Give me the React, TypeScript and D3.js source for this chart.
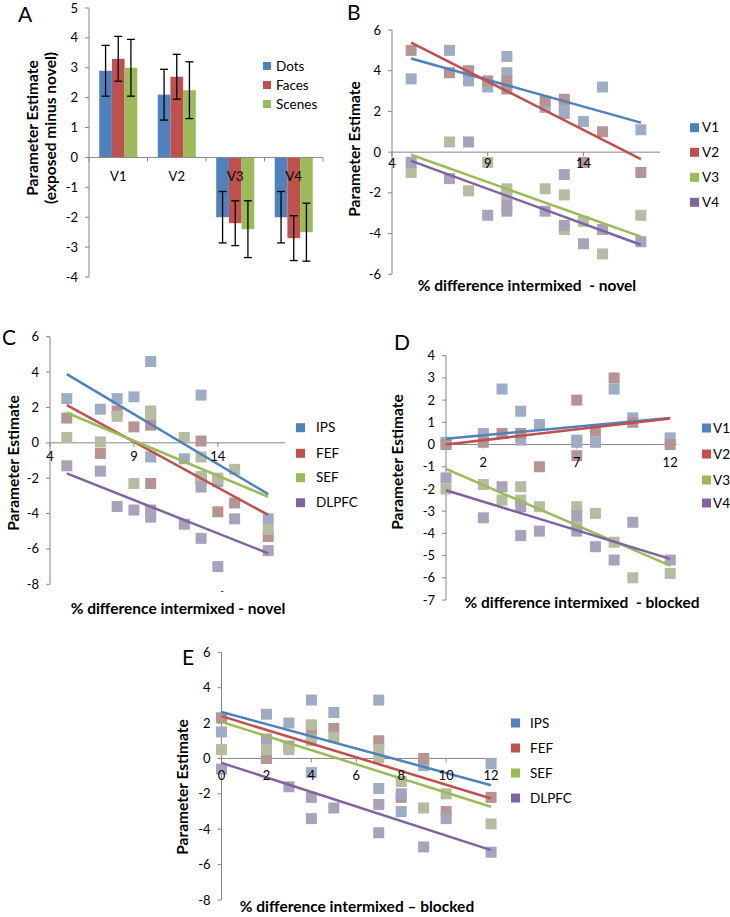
import React from "react";
import * as d3 from "d3";

const FONT = "Lato, 'Open Sans', 'DejaVu Sans', sans-serif";
const LINE_COLORS = ["#4f81bd", "#c0504d", "#9bbb59", "#8064a2"];
const POINT_COLORS = ["#9eadc3", "#b49594", "#b5bca2", "#a9a2bb"];
const AXIS = "#868686";
const TICK_FS = 13;
const LEG_FS = 13.5;
const TITLE_FS = 15.5;

// ---- Panel A data ----
const barCategories = ["V1", "V2", "V3", "V4"];
const barSeries = ["Dots", "Faces", "Scenes"];
const dotsValues = [2.9, 2.1, -2.0, -2.0];
const dotsErrors = [0.85, 0.85, 0.86, 0.86];
const facesValues = [3.3, 2.7, -2.2, -2.7];
const facesErrors = [0.75, 0.75, 0.75, 0.75];
const scenesValues = [3.0, 2.25, -2.4, -2.5];
const scenesErrors = [0.95, 0.95, 0.95, 0.97];
const barYTicks = [5, 4, 3, 2, 1, 0, -1, -2, -3, -4];

// ---- Panel B data ----
const visualNames = ["V1", "V2", "V3", "V4"];
const bV1 = [[5, 3.6], [7, 5.0], [8, 3.5], [9, 3.2], [10, 4.7], [10, 3.9], [12, 2.2], [13, 1.9], [13, 2.3], [14, 1.5], [15, 3.2], [17, 1.1]];
const bV2 = [[5, 5.0], [7, 3.9], [8, 4.0], [9, 3.5], [10, 3.5], [10, 3.1], [12, 2.5], [13, 2.6], [14, -0.5], [15, 1.0], [17, -1.0]];
const bV3 = [[5, -1.0], [7, 0.5], [8, -1.9], [9, -0.5], [10, -1.8], [10, -2.1], [12, -1.8], [13, -2.1], [13, -3.8], [14, -3.4], [15, -5.0], [17, -3.1]];
const bV4 = [[5, -0.5], [7, -1.3], [8, 0.5], [9, -3.1], [10, -2.6], [10, -2.9], [12, -2.9], [13, -1.1], [13, -3.6], [14, -4.5], [15, -3.8], [17, -4.4]];
const bTrendX = [5, 17];
const bTrends = [[4.6, 1.45], [5.38, -0.34], [-0.13, -4.15], [-0.43, -4.55]];
const bXTicks = [4, 9, 14];
const bYTicks = [6, 4, 2, 0, -2, -4, -6];

// ---- Panel C data ----
const frontalNames = ["IPS", "FEF", "SEF", "DLPFC"];
const cIPS = [[5, 2.5], [7, 1.9], [8, 2.5], [9, 2.6], [10, 4.6], [10, -0.8], [12, -0.9], [13, 2.7], [13, -2.0], [14, -2.2], [17, -4.3]];
const cFEF = [[5, 1.4], [7, -0.6], [8, 1.8], [9, 0.9], [10, 1.0], [10, -2.3], [13, 0.1], [13, -2.1], [14, -3.9], [15, -3.4], [17, -5.3]];
const cSEF = [[5, 0.3], [7, 0.05], [8, 1.5], [9, -2.3], [10, 1.8], [10, 1.6], [12, 0.3], [13, -0.8], [13, -1.9], [14, -2.0], [15, -1.5], [17, -4.9]];
const cDLPFC = [[5, -1.3], [7, -1.6], [8, -3.6], [9, -3.8], [10, -3.8], [10, -4.2], [12, -4.6], [13, -2.5], [13, -5.4], [14, -7.0], [15, -4.3], [17, -6.1]];
const cTrendX = [5, 17];
const cTrends = [[3.88, -2.9], [2.13, -4.08], [1.7, -3.05], [-1.73, -6.25]];
const cXTicks = [4, 9, 14];
const cYTicks = [6, 4, 2, 0, -2, -4, -6, -8];

// ---- Panel D data ----
const dV1 = [[0, 0.1], [2, 0.5], [3, 2.5], [4, 1.5], [4, 0.2], [5, 0.9], [7, 0.2], [7, 0.1], [8, 0.1], [9, 2.5], [10, 1.2], [12, 0.3]];
const dV2 = [[0, 0.0], [2, 0.1], [3, 0.5], [4, 0.5], [5, -1.0], [7, 2.0], [7, -0.5], [8, 0.6], [9, 3.0], [10, 1.0], [12, 0.0]];
const dV3 = [[0, -2.0], [2, -1.8], [3, -2.5], [4, -1.9], [4, -2.5], [5, -2.8], [7, -2.8], [7, -3.6], [8, -3.1], [9, -4.4], [10, -6.0], [12, -5.8]];
const dV4 = [[0, -1.5], [2, -3.3], [3, -1.9], [4, -2.8], [4, -4.1], [5, -3.9], [7, -3.2], [7, -3.9], [8, -4.6], [9, -5.2], [10, -3.5], [12, -5.2]];
const dTrendX = [0, 12];
const dTrends = [[0.26, 1.2], [0.0, 1.17], [-1.1, -5.45], [-2.06, -5.15]];
const dXTicks = [2, 7, 12];
const dYTicks = [4, 3, 2, 1, 0, -1, -2, -3, -4, -5, -6, -7];

// ---- Panel E data ----
const eIPS = [[0, 1.5], [2, 2.5], [3, 2.0], [4, 3.3], [4, -0.8], [4, 1.1], [5, 2.6], [7, 3.3], [7, -1.7], [8, -3.0], [9, -0.4], [12, -0.3]];
const eFEF = [[0, 2.3], [2, 0.0], [3, 0.7], [4, 1.7], [5, 1.7], [7, 1.0], [8, -2.2], [9, 0.0], [10, -3.0], [12, -2.2]];
const eSEF = [[0, 0.5], [2, 0.5], [3, 0.5], [4, 1.9], [4, 1.0], [5, 1.2], [7, 0.5], [7, 0.05], [8, -1.3], [9, -2.8], [10, -2.0], [12, -3.7]];
const eDLPFC = [[0, -0.6], [2, 1.1], [3, -1.6], [4, -2.2], [4, -3.4], [5, -2.8], [7, -2.6], [7, -4.2], [8, -2.0], [9, -5.0], [10, -3.4], [12, -5.3]];
const eTrendX = [0, 12];
const eTrends = [[2.63, -1.51], [2.39, -2.26], [2.07, -2.73], [-0.25, -5.18]];
const eXTicks = [0, 2, 4, 6, 8, 10, 12];
const eYTicks = [6, 4, 2, 0, -2, -4, -6, -8];

function BarPanel() {
  const y = d3.scaleLinear().domain([-4, 5]).range([277, 8]);
  const x = d3.scaleBand<string>().domain(barCategories).range([89, 323]).paddingInner(0.35).paddingOuter(0.175);
  const inner = d3.scaleBand<string>().domain(barSeries).range([0, x.bandwidth()]);
  const values = [dotsValues, facesValues, scenesValues];
  const errors = [dotsErrors, facesErrors, scenesErrors];
  const step = x.step();
  const y0 = y(0);
  return (
    <g>
      <text x={18} y={22} fontSize={21} fontFamily={FONT}>A</text>
      <line x1={89} x2={89} y1={y(5)} y2={y(-4)} stroke={AXIS} />
      {barYTicks.map((t) => (
        <g key={t}>
          <line x1={85} x2={89} y1={y(t)} y2={y(t)} stroke={AXIS} />
          <text x={78} y={y(t)} dy="0.35em" textAnchor="end" fontSize={TICK_FS} fontFamily={FONT}>{t}</text>
        </g>
      ))}
      {barCategories.map((c, ci) =>
        barSeries.map((s, si) => {
          const v = values[si][ci];
          const bx = (x(c) as number) + (inner(s) as number);
          const bw = inner.bandwidth();
          return (
            <rect key={c + s} x={bx} width={bw} y={Math.min(y(v), y0)} height={Math.abs(y(v) - y0)} fill={LINE_COLORS[si]} />
          );
        })
      )}
      <line x1={89} x2={323} y1={y0} y2={y0} stroke={AXIS} />
      {d3.range(5).map((i) => (
        <line key={i} x1={89 + i * step} x2={89 + i * step} y1={y0} y2={y0 + 4} stroke={AXIS} />
      ))}
      {barCategories.map((c) => (
        <text key={c} x={(x(c) as number) + x.bandwidth() / 2} y={y0 + 19} dy="0.35em" textAnchor="middle" fontSize={TICK_FS} fontFamily={FONT}>{c}</text>
      ))}
      {barCategories.map((c, ci) =>
        barSeries.map((s, si) => {
          const v = values[si][ci];
          const e = errors[si][ci];
          const cx = (x(c) as number) + (inner(s) as number) + inner.bandwidth() / 2;
          return (
            <g key={"e" + c + s} stroke="#000" strokeWidth={1.3}>
              <line x1={cx} x2={cx} y1={y(v + e)} y2={y(v - e)} />
              <line x1={cx - 4} x2={cx + 4} y1={y(v + e)} y2={y(v + e)} />
              <line x1={cx - 4} x2={cx + 4} y1={y(v - e)} y2={y(v - e)} />
            </g>
          );
        })
      )}
      {barSeries.map((s, i) => (
        <g key={s}>
          <rect x={263} y={66 + i * 19 - 4} width={8} height={8} fill={LINE_COLORS[i]} />
          <text x={276} y={66 + i * 19} dy="0.35em" fontSize={LEG_FS} fontFamily={FONT}>{s}</text>
        </g>
      ))}
      <g transform="translate(33,128) rotate(-90)">
        <text textAnchor="middle" dy="0.35em" fontSize={TITLE_FS} fontWeight="bold" fontFamily={FONT}>Parameter Estimate</text>
      </g>
      <g transform="translate(51,128) rotate(-90)">
        <text textAnchor="middle" dy="0.35em" fontSize={TITLE_FS} fontWeight="bold" fontFamily={FONT}>(exposed minus novel)</text>
      </g>
    </g>
  );
}

type ScatterProps = {
  letter: string;
  letterPos: [number, number];
  xDomain: [number, number];
  xRange: [number, number];
  yDomain: [number, number];
  yRange: [number, number];
  xTicks: number[];
  yTicks: number[];
  xLabelOffset: number;
  series: number[][][];
  trendX: number[];
  trends: number[][];
  names: string[];
  legendSquareX: number;
  legendTextX: number;
  legendY: number[];
  yTitlePos: [number, number];
  xTitle: string;
  xTitlePos: [number, number];
};

function ScatterPanel(p: ScatterProps) {
  const x = d3.scaleLinear().domain(p.xDomain).range(p.xRange);
  const y = d3.scaleLinear().domain(p.yDomain).range(p.yRange);
  const ax = p.xRange[0];
  const y0 = y(0);
  const sz = 11;
  const line = d3.line<number[]>().x((d) => x(d[0])).y((d) => y(d[1]));
  return (
    <g>
      <text x={p.letterPos[0]} y={p.letterPos[1]} fontSize={21} fontFamily={FONT}>{p.letter}</text>
      <line x1={ax} x2={ax} y1={p.yRange[0]} y2={p.yRange[1]} stroke={AXIS} />
      {p.yTicks.map((t) => (
        <g key={t}>
          <line x1={ax - 4} x2={ax} y1={y(t)} y2={y(t)} stroke={AXIS} />
          <text x={ax - 11} y={y(t)} dy="0.35em" textAnchor="end" fontSize={TICK_FS} fontFamily={FONT}>{t}</text>
        </g>
      ))}
      <line x1={p.xRange[0]} x2={p.xRange[1]} y1={y0} y2={y0} stroke={AXIS} />
      {p.xTicks.map((t) => (
        <line key={t} x1={x(t)} x2={x(t)} y1={y0} y2={y0 + 4} stroke={AXIS} />
      ))}
      {p.series.map((s, si) => (
        <g key={si}>
          {s.map((d, i) => (
            <rect key={i} x={x(d[0]) - sz / 2} y={y(d[1]) - sz / 2} width={sz} height={sz} fill={POINT_COLORS[si]} />
          ))}
        </g>
      ))}
      {p.trends.map((t, si) => (
        <path key={si} d={line([[p.trendX[0], t[0]], [p.trendX[1], t[1]]]) as string} stroke={LINE_COLORS[si]} strokeWidth={2.5} fill="none" />
      ))}
      {p.xTicks.map((t) => (
        <text key={t} x={x(t)} y={y0 + p.xLabelOffset} textAnchor="middle" fontSize={TICK_FS} fontFamily={FONT}>{t}</text>
      ))}
      {p.names.map((n, i) => (
        <g key={n}>
          <rect x={p.legendSquareX} y={p.legendY[i] - 4.5} width={9} height={9} fill={LINE_COLORS[i]} />
          <text x={p.legendTextX} y={p.legendY[i]} dy="0.35em" fontSize={LEG_FS} fontFamily={FONT}>{n}</text>
        </g>
      ))}
      <g transform={`translate(${p.yTitlePos[0]},${p.yTitlePos[1]}) rotate(-90)`}>
        <text textAnchor="middle" dy="0.35em" fontSize={TITLE_FS} fontWeight="bold" fontFamily={FONT}>Parameter Estimate</text>
      </g>
      <text x={p.xTitlePos[0]} y={p.xTitlePos[1]} textAnchor="middle" fontSize={TITLE_FS} fontWeight="bold" fontFamily={FONT} style={{ whiteSpace: "pre" }}>{p.xTitle}</text>
    </g>
  );
}

export default function App() {
  return (
    <svg width={730} height={917} style={{ position: "absolute", left: 0, top: 0, background: "#fff" }}>
      <rect width={730} height={917} fill="#fff" />
      <BarPanel />
      <ScatterPanel
        letter="B" letterPos={[347, 20]}
        xDomain={[4, 18]} xRange={[392, 660]} yDomain={[-6, 6]} yRange={[274.3, 30]}
        xTicks={bXTicks} yTicks={bYTicks} xLabelOffset={16}
        series={[bV1, bV2, bV3, bV4]} trendX={bTrendX} trends={bTrends} names={visualNames}
        legendSquareX={690} legendTextX={702} legendY={[127.7, 152.3, 177.3, 202.3]}
        yTitlePos={[355, 149]} xTitle="% difference intermixed  - novel" xTitlePos={[527, 291]}
      />
      <ScatterPanel
        letter="C" letterPos={[2, 345]}
        xDomain={[4, 18]} xRange={[50, 285]} yDomain={[-8, 6]} yRange={[584.3, 336.7]}
        xTicks={cXTicks} yTicks={cYTicks} xLabelOffset={18}
        series={[cIPS, cFEF, cSEF, cDLPFC]} trendX={cTrendX} trends={cTrends} names={frontalNames}
        legendSquareX={296} legendTextX={316} legendY={[427.7, 453.3, 477.7, 502.7]}
        yTitlePos={[14, 463]} xTitle="% difference intermixed - novel" xTitlePos={[178, 614]}
      />
      <text x={222} y={594} textAnchor="middle" fontSize={10} fontFamily={FONT}>-</text>
      <ScatterPanel
        letter="D" letterPos={[394, 350]}
        xDomain={[0, 12.35]} xRange={[446, 676.7]} yDomain={[-7, 4]} yRange={[600, 355.7]}
        xTicks={dXTicks} yTicks={dYTicks} xLabelOffset={22}
        series={[dV1, dV2, dV3, dV4]} trendX={dTrendX} trends={dTrends} names={visualNames}
        legendSquareX={702} legendTextX={713} legendY={[428, 454, 480, 503]}
        yTitlePos={[398, 462]} xTitle="% difference intermixed  - blocked" xTitlePos={[582, 608]}
      />
      <ScatterPanel
        letter="E" letterPos={[182, 665]}
        xDomain={[0, 12.25]} xRange={[221.5, 496.7]} yDomain={[-8, 6]} yRange={[900, 652.3]}
        xTicks={eXTicks} yTicks={eYTicks} xLabelOffset={22}
        series={[eIPS, eFEF, eSEF, eDLPFC]} trendX={eTrendX} trends={eTrends} names={frontalNames}
        legendSquareX={511} legendTextX={530} legendY={[723, 748, 773, 798]}
        yTitlePos={[183, 787]} xTitle="% difference intermixed – blocked" xTitlePos={[357, 912]}
      />
    </svg>
  );
}
